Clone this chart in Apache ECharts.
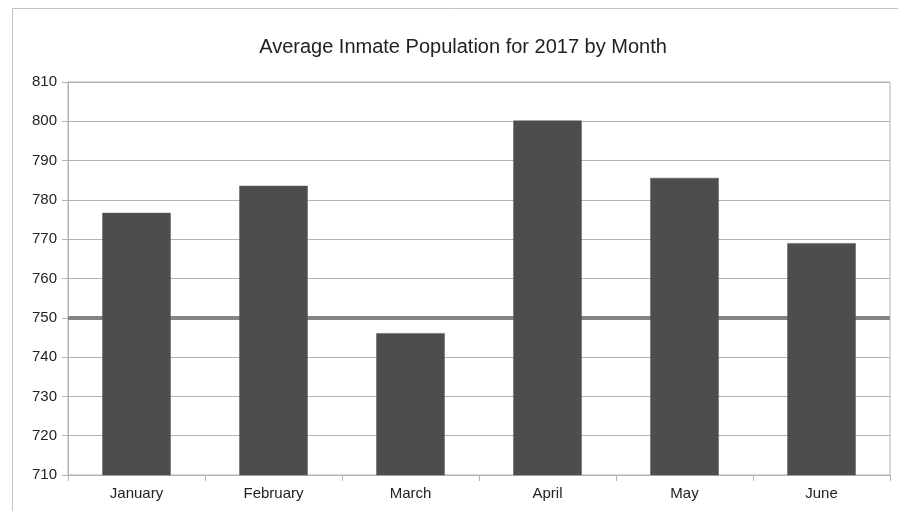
<!DOCTYPE html>
<html><head><meta charset="utf-8">
<script src="https://cdn.jsdelivr.net/npm/echarts@6/dist/echarts.min.js"></script>
<style>html,body{margin:0;padding:0;background:#fff}#c{width:898px;height:511px}</style>
</head><body><div id="c"></div>
<script>
const categories = ['January','February','March','April','May','June'];
const populationValues = [776.7, 783.6, 746.1, 800.2, 785.6, 769.0];
const referenceValue = 750;
const yTicks = {min: 710, max: 810, interval: 10};

const chart = echarts.init(document.getElementById('c'), null, {renderer: 'canvas'});
chart.setOption({
  animation: false,
  backgroundColor: '#fff',
  textStyle: {fontFamily: 'Liberation Sans, Arial, sans-serif'},
  title: {
    text: 'Average Inmate Population for 2017 by Month',
    left: 458, top: 32, textAlign: 'center',
    textStyle: {fontSize: 20, fontWeight: 'normal', color: '#222', fontFamily: 'Liberation Sans'}
  },
  graphic: [{
    type: 'rect', silent: true, z: 0,
    shape: {x: 12.5, y: 8.5, width: 1000, height: 1000},
    style: {fill: 'none', stroke: '#c2c2c2', lineWidth: 1}
  }],
  grid: {left: 68, right: 8, top: 82, bottom: 36, containLabel: false,
         show: true, borderColor: '#b3b3b3', borderWidth: 1},
  xAxis: {
    type: 'category', data: categories,
    axisLine: {lineStyle: {color: '#b3b3b3'}},
    axisTick: {show: true, length: 6, lineStyle: {color: '#b3b3b3'}},
    axisLabel: {color: '#222', fontSize: 15, margin: 11, fontFamily: 'Liberation Sans'}
  },
  yAxis: {
    type: 'value', min: yTicks.min, max: yTicks.max, interval: yTicks.interval,
    axisLine: {show: true, lineStyle: {color: '#b3b3b3'}},
    axisTick: {show: true, length: 6, lineStyle: {color: '#b3b3b3'}},
    axisLabel: {color: '#222', fontSize: 15, margin: 11, fontFamily: 'Liberation Sans'},
    splitLine: {lineStyle: {color: '#b3b3b3'}}
  },
  series: [
    {
      type: 'line', data: [], z: 1, silent: true,
      markLine: {
        silent: true, symbol: 'none', z: 1,
        label: {show: false},
        lineStyle: {color: '#858585', width: 4, type: 'solid'},
        data: [{yAxis: referenceValue}]
      }
    },
    {
      type: 'bar', data: populationValues, z: 3,
      barWidth: '50%',
      itemStyle: {color: '#4d4d4d', borderColor: '#5a5a5a', borderWidth: 0.5}
    }
  ]
});
</script></body></html>
